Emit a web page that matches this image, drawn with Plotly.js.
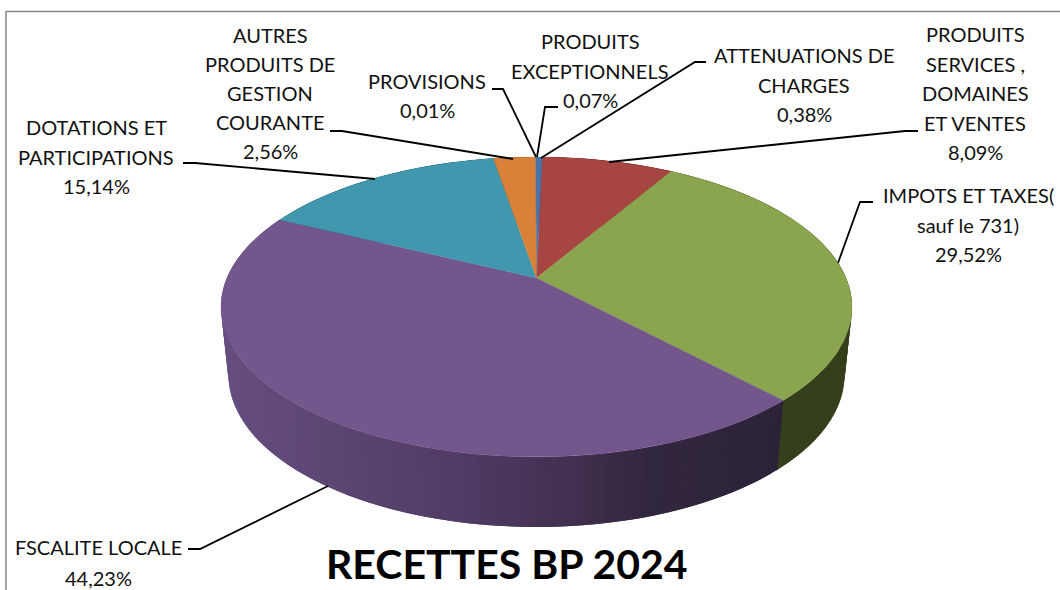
<!DOCTYPE html>
<html>
<head>
<meta charset="utf-8">
<script src="https://cdn.plot.ly/plotly-3.0.1.min.js"></script>
<style>html,body{margin:0;padding:0;background:#fff;overflow:hidden}#chart{width:1060px;height:590px}</style>
</head>
<body>
<div id="chart"></div>
<script>
// Data, clockwise from 12 o'clock
const categories = ["PROVISIONS","PRODUITS EXCEPTIONNELS","ATTENUATIONS DE CHARGES","PRODUITS SERVICES , DOMAINES ET VENTES","IMPOTS ET TAXES( sauf le 731)","FSCALITE LOCALE","DOTATIONS ET PARTICIPATIONS","AUTRES PRODUITS DE GESTION COURANTE"];
const values = [0.01,0.07,0.38,8.09,29.52,44.23,15.14,2.56];
const valueLabels = ["0,01%","0,07%","0,38%","8,09%","29,52%","44,23%","15,14%","2,56%"];
const labelLines = [["PROVISIONS"],["PRODUITS","EXCEPTIONNELS"],["ATTENUATIONS DE","CHARGES"],["PRODUITS","SERVICES ,","DOMAINES","ET VENTES"],["IMPOTS ET TAXES(","sauf le 731)"],["FSCALITE LOCALE"],["DOTATIONS ET","PARTICIPATIONS"],["AUTRES","PRODUITS DE","GESTION","COURANTE"]];
const chartTitle = "RECETTES BP 2024";

// Styles and layout
const topColors = ["#8f8f9c","#7f8fc0","#4674ab","#a74543","#8ba54f","#72568c","#4197ae","#d98139"];
const wallColors = ["#333","#333","#24364f","#4d1f1e","#363f1c",null,"#1e4a56","#6a3f1b"];
const purpleStops = [[-1,[101,78,128]],[-0.6,[90,68,113]],[-0.2,[78,58,98]],[0.1,[66,48,80]],[0.35,[50,39,64]],[0.8,[43,34,56]],[1,[43,34,56]]];
const labelX = [427,590,804,975,968,98,96,270];
const labelY = [81,41,55,34,195,547,127,35];
const lineGap = [29,29.5,29.5,29.5,29.5,31,29.5,29];
const leaders = [
  [[492,503,536],[89,89,157]],
  [[558,545,537],[107,107,157]],
  [[706,695,541],[62,62,158]],
  [[918,905,609],[131,131,162]],
  [[873,860,838],[202,202,263]],
  [[188,200,328],[549,549,486]],
  [[183,195,375],[163,163,179]],
  [[330,342,513],[131,131,159]]
];
const cx = 536.5, topCy = 307, topRx = 315.5, topRy = 150;
const botCy = 375, botRx = 308, botRy = 152;
const k = -0.193, startDeg = -0.3;

// Perspective projection of a circle angle (clockwise from top) to a unit ellipse
function proj(deg){
  const a = deg*Math.PI/180, x = Math.sin(a), y = -Math.cos(a);
  const d = 1 + k*y;
  return [x*Math.sqrt(1-k*k)/d, (y+k)/d];
}
const apexX = cx, apexY = topCy + k*topRy;
function purpleAt(X){
  for(let i=1;i<purpleStops.length;i++){
    const a=purpleStops[i-1], b=purpleStops[i];
    if(X<=b[0]){
      const f=(X-a[0])/(b[0]-a[0]);
      const c=a[1].map((v,j)=>Math.round(v+(b[1][j]-v)*f));
      return `rgb(${c.join(",")})`;
    }
  }
  return "rgb(43,34,56)";
}

const total = values.reduce((s,v)=>s+v,0);
const edges = [startDeg];
values.forEach(v=>edges.push(edges[edges.length-1]+v/total*360));

const traces = [];
const poly = (xs,ys,color,lw)=>traces.push({type:"scatter",mode:"lines",x:xs,y:ys,fill:"toself",fillcolor:color,
  line:{color:color,width:lw},hoverinfo:"skip",showlegend:false});
const wallPoly = (list,color)=>{
  const xs=[], ys=[];
  list.forEach(t=>{const p=proj(t); xs.push(cx+p[0]*topRx); ys.push(topCy+p[1]*topRy);});
  list.slice().reverse().forEach(t=>{const p=proj(t); xs.push(cx+p[0]*botRx); ys.push(botCy+p[1]*botRy);});
  xs.push(xs[0]); ys.push(ys[0]);
  poly(xs,ys,color,0);
};

// Side wall: overlapping strips so no seams show and the silhouette stays straight
values.forEach((v,i)=>{
  const a0=edges[i], a1=edges[i+1];
  const steps = Math.max(1,Math.ceil((a1-a0)/1.5));
  const ang = s => a0+(a1-a0)*s/steps;
  for(let s=0;s<steps;s++){
    const p=proj(ang(s)), q=proj(ang(s+1));
    const color = wallColors[i] || purpleAt((p[0]+q[0])/2);
    const next = s+2<=steps ? ang(s+2) : ang(s+1)+0.4;
    wallPoly([ang(s),ang(s+1),next],color);
  }
});
// Top face slices
values.forEach((v,i)=>{
  const a0=edges[i], a1=edges[i+1];
  const steps = Math.max(2,Math.ceil((a1-a0)/1));
  const xs=[apexX], ys=[apexY];
  for(let s=0;s<=steps;s++){
    const p=proj(a0+(a1-a0)*s/steps);
    xs.push(cx+p[0]*topRx); ys.push(topCy+p[1]*topRy);
  }
  xs.push(apexX); ys.push(apexY);
  poly(xs,ys,topColors[i],0.3);
});
// Leader lines
leaders.forEach(l=>traces.push({type:"scatter",mode:"lines",x:l[0],y:l[1],line:{color:"#000",width:1.8},hoverinfo:"skip",showlegend:false}));
// Frame
traces.push({type:"scatter",mode:"lines",x:[6,6,1060],y:[590,11.5,11.5],line:{color:"#868686",width:1.5},hoverinfo:"skip",showlegend:false});

// Labels
const font = {family:"Lato, sans-serif",size:20,color:"#111"};
const annotations = [];
labelLines.forEach((lines,i)=>{
  lines.concat([valueLabels[i]]).forEach((t,j)=>{
    annotations.push({xref:"x",yref:"y",x:labelX[i],y:labelY[i]+j*lineGap[i],text:t,showarrow:false,xanchor:"center",yanchor:"middle",font:font,borderpad:0});
  });
});
annotations.push({xref:"x",yref:"y",x:507,y:563,text:"<b>"+chartTitle+"</b>",showarrow:false,xanchor:"center",yanchor:"middle",font:{family:"Lato, sans-serif",size:41,color:"#000"}});

Plotly.newPlot("chart",traces,{
  width:1060,height:590,margin:{l:0,r:0,t:0,b:0},paper_bgcolor:"#fff",plot_bgcolor:"#fff",showlegend:false,
  xaxis:{range:[0,1060],visible:false,fixedrange:true},
  yaxis:{range:[590,0],visible:false,fixedrange:true},
  annotations:annotations
},{displayModeBar:false,staticPlot:true});
</script>
</body>
</html>
